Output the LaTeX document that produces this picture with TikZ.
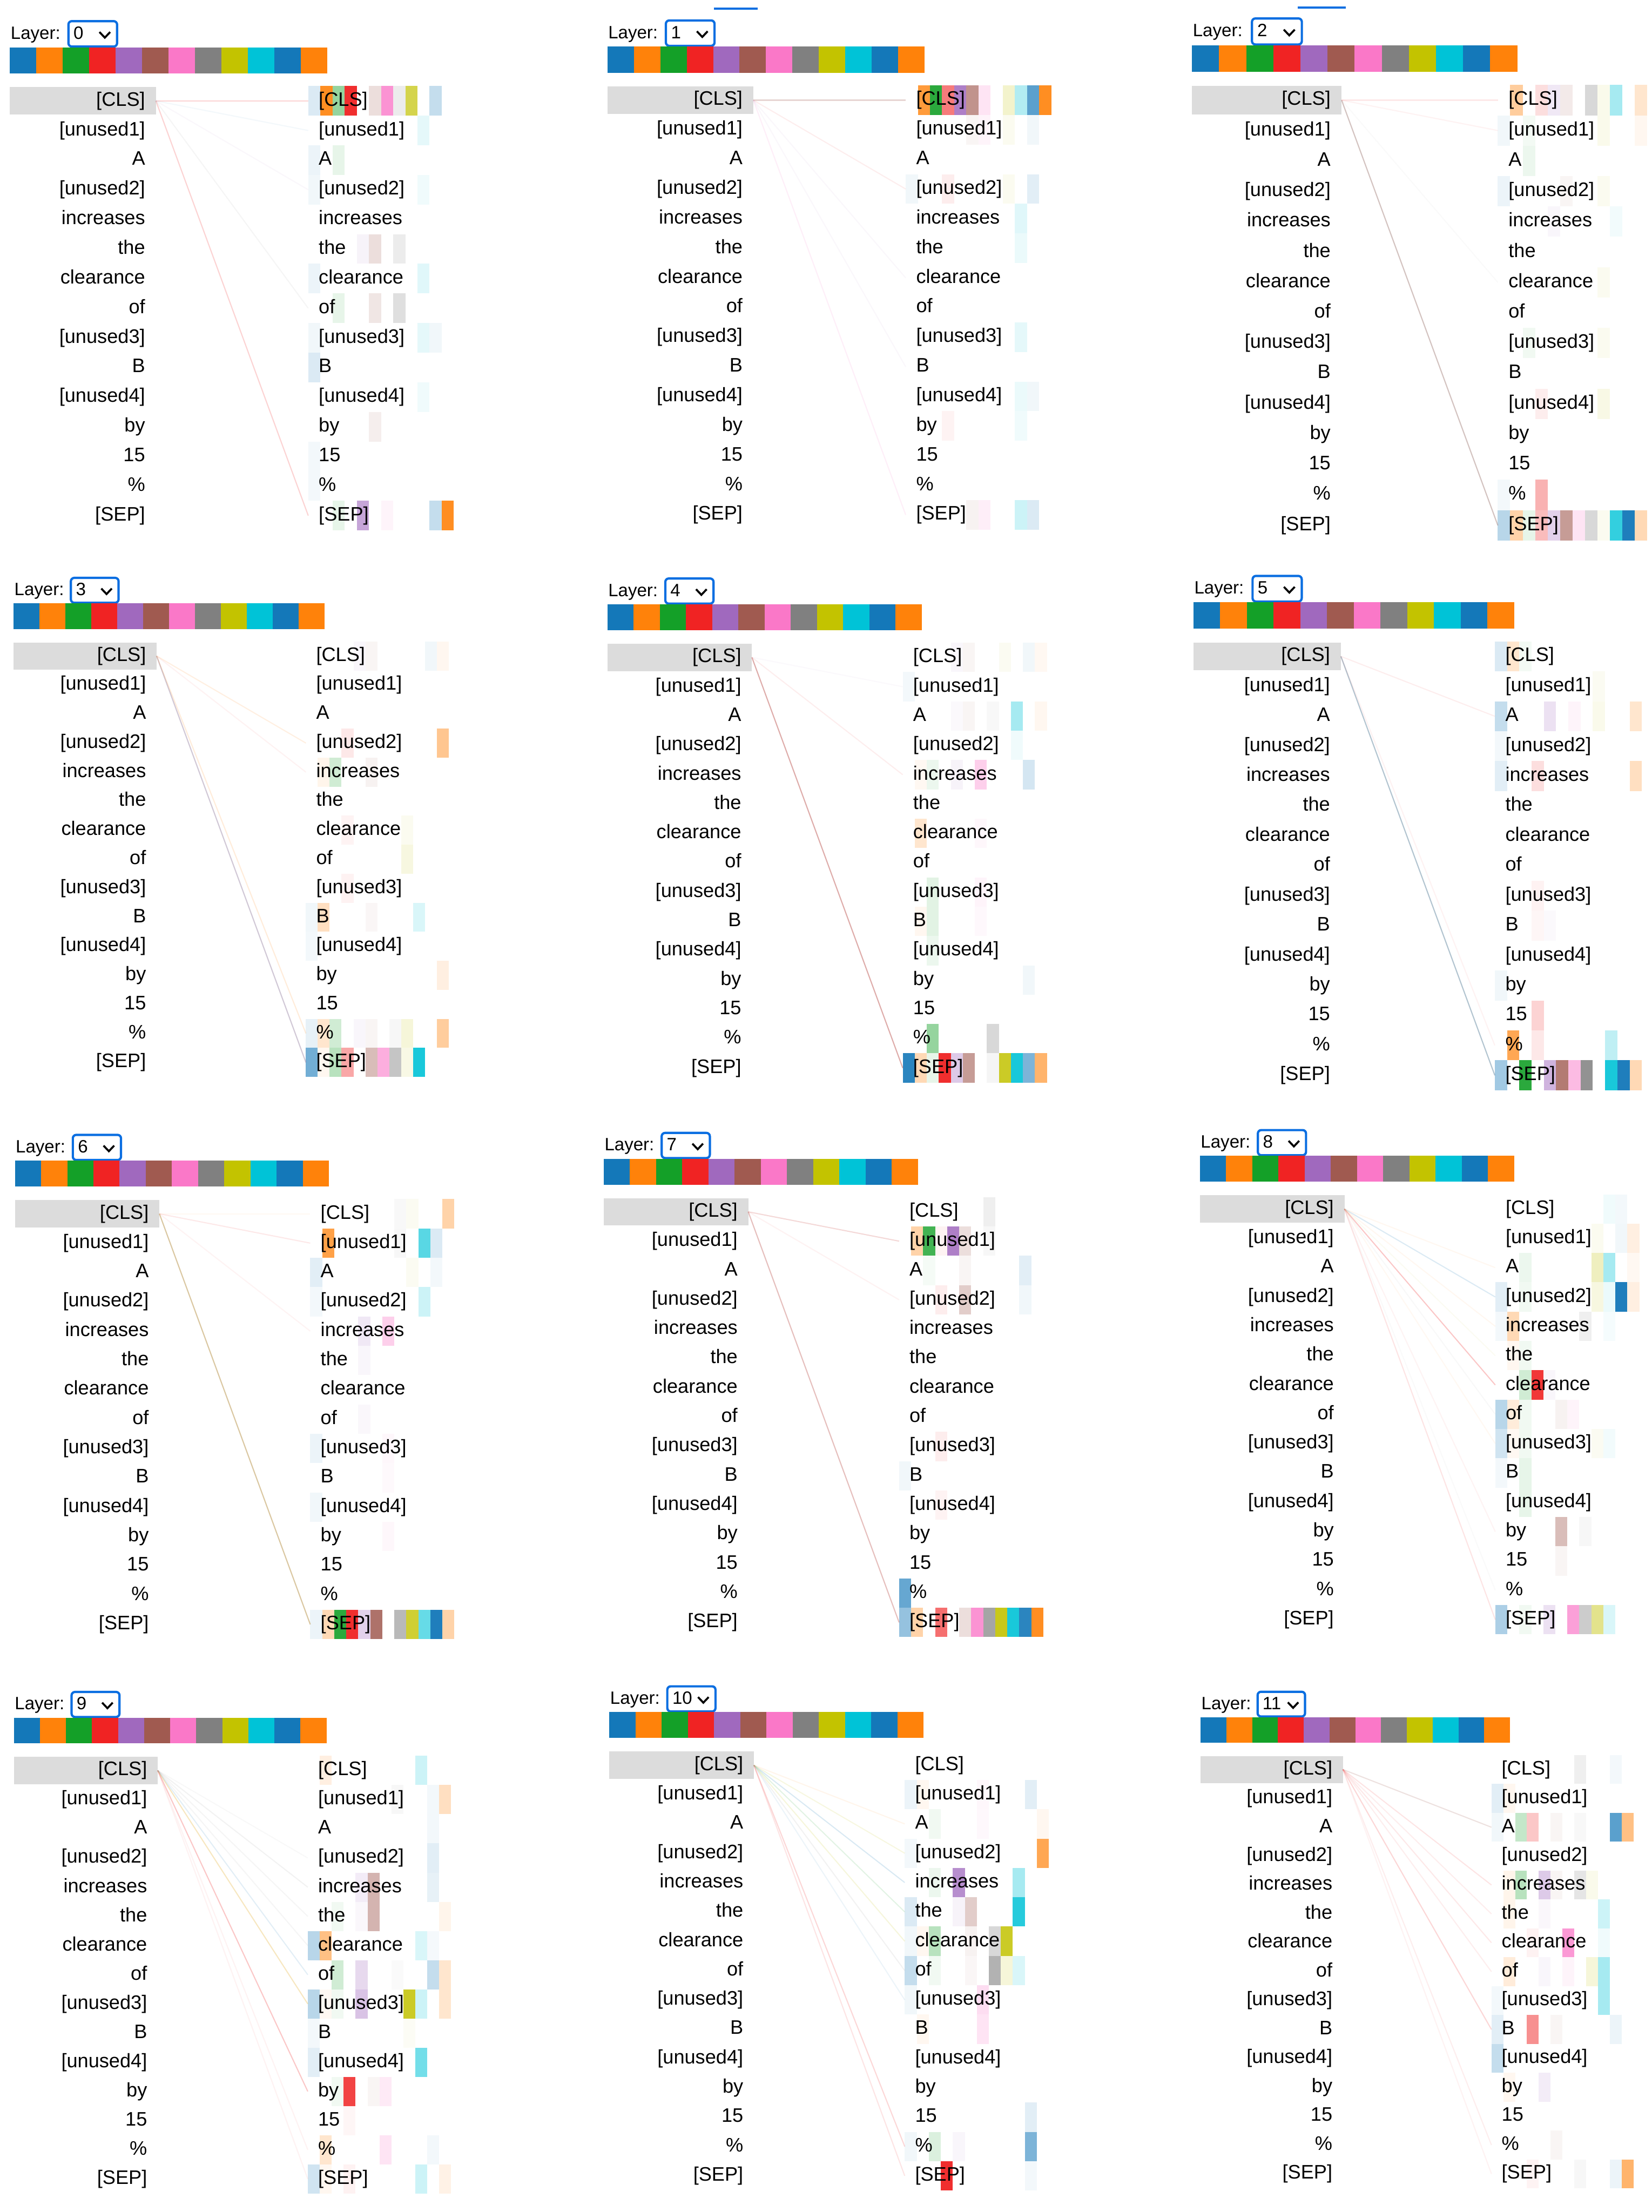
\documentclass[tikz,border=0pt]{standalone}
\usepackage{fontspec}
\setmainfont{Liberation Sans}
\usetikzlibrary{positioning}

\definecolor{headA}{RGB}{20,120,185}
\definecolor{headB}{RGB}{255,130,10}
\definecolor{headC}{RGB}{20,160,40}
\definecolor{headD}{RGB}{240,35,35}
\definecolor{headE}{RGB}{160,105,190}
\definecolor{headF}{RGB}{160,90,80}
\definecolor{headG}{RGB}{250,120,200}
\definecolor{headH}{RGB}{128,128,128}
\definecolor{headI}{RGB}{195,195,0}
\definecolor{headJ}{RGB}{0,195,215}
\definecolor{headK}{RGB}{20,120,185}
\definecolor{headL}{RGB}{255,130,10}
\definecolor{selgray}{RGB}{220,220,220}
\definecolor{dropblue}{RGB}{10,110,225}

% one head-view panel: name, x, y, scale, layer, cells, lines
\newcommand{\attnpanel}[7]{%
	\begin{scope}[shift={(#2,#3)}, scale=#4]
		% attention cells behind the right tokens
		\foreach \r/\c/\h/\o in {#6}
			\fill[\h, fill opacity=\o] (108+8.6*\c,21*\r-10.5) rectangle ++(8.6,21);
		% layer selector
		\node (#1-layer) [layerlab] at (-103,-47) {Layer:};
		\draw[dropbox] (-62,-56.5) rectangle (-27.5,-38.5);
		\node (#1-num) [layerlab] at (-58.5,-47) {#5};
		\draw[chevron] (-40,-48.8) -- (-36.2,-44.8) -- (-32.4,-48.8);
		% head colours
		\foreach \h [count=\k from 0] in {headA,headB,headC,headD,headE,headF,headG,headH,headI,headJ,headK,headL}
			\fill[\h] (-103.5+18.75*\k,-38) rectangle ++(18.75,18.5);
		% selected token
		\fill[selgray] (-103.5,-9.8) rectangle (0,9.8);
		\coordinate (#1-sel) at (0,0);
		% tokens
		\foreach \t [count=\i from 0] in {{[CLS]},{[unused1]},A,{[unused2]},increases,the,clearance,of,{[unused3]},B,{[unused4]},by,15,\%,{[SEP]}} {
			\node (#1-l\i) [lefttok] at (-7.5,21*\i) {\t};
			\node (#1-r\i) [righttok] at (115.3,21*\i) {\t};
			\coordinate (#1-e\i) at (108,21*\i);
		}
		% attention lines
		\foreach \r/\h/\o in {#7}
			\draw[attn, \h, draw opacity=\o] (#1-sel) -- (#1-e\r);
	\end{scope}}

\begin{document}
\begin{tikzpicture}[
	x=0.05cm, y=-0.05cm,
	lefttok/.style={anchor=east, inner sep=0, text height=14.5pt, text depth=4.2pt, font=\fontsize{19.7}{22}\selectfont},
	righttok/.style={anchor=west, inner sep=0, text height=14.5pt, text depth=4.2pt, font=\fontsize{19.7}{22}\selectfont},
	layerlab/.style={anchor=west, inner sep=0, text height=12.9pt, text depth=3.8pt, font=\fontsize{18}{20}\selectfont},
	dropbox/.style={draw=dropblue, line width=0.08cm, rounded corners=0.12cm},
	chevron/.style={draw=black, line width=0.07cm},
	attn/.style={line width=0.04cm}
	]
	
	\fill[white] (0,0) rectangle (1171,1568);
	\useasboundingbox (0,0) rectangle (1171,1568);
	
	%%%%%%%%%%%%%%%%%%%%%%%%%%%%%%%%%%%%%%%%%%%%%%%%%%%%%%%%%%%%
	% Row 1: layers 0, 1, 2
	%%%%%%%%%%%%%%%%%%%%%%%%%%%%%%%%%%%%%%%%%%%%%%%%%%%%%%%%%%%%
	
	\attnpanel{p0}{110.5}{71.5}{1}{0}{
		0/0/headA/0.15, 0/1/headB/0.9, 0/2/headC/0.45, 0/3/headD/0.95, 0/5/headF/0.2, 0/6/headG/0.8, 0/7/headH/0.15, 0/8/headI/0.7, 0/10/headK/0.25,
		1/9/headJ/0.1, 2/0/headA/0.08, 2/2/headC/0.1, 3/0/headA/0.06, 3/9/headJ/0.06,
		5/4/headE/0.08, 5/5/headF/0.2, 5/7/headH/0.15, 6/0/headA/0.08, 6/9/headJ/0.12,
		7/2/headC/0.1, 7/5/headF/0.15, 7/7/headH/0.25, 8/0/headA/0.06, 8/9/headJ/0.1, 8/10/headK/0.06,
		9/0/headA/0.15, 10/9/headJ/0.06, 11/5/headF/0.1, 12/0/headA/0.05, 13/0/headA/0.05,
		14/2/headC/0.1, 14/4/headE/0.6, 14/6/headG/0.08, 14/10/headK/0.25, 14/11/headL/0.9}{
		0/headD/0.2, 14/headD/0.2, 7/headH/0.08, 3/headE/0.05, 1/headA/0.05}
	
	\attnpanel{p1}{534}{71}{1}{1}{
		0/1/headB/0.8, 0/2/headC/0.9, 0/3/headD/0.6, 0/4/headE/0.85, 0/5/headF/0.65, 0/6/headG/0.2, 0/8/headI/0.2, 0/9/headJ/0.3, 0/10/headK/0.7, 0/11/headL/0.9,
		1/5/headF/0.06, 1/6/headG/0.08, 1/8/headI/0.06, 1/10/headK/0.06,
		3/0/headA/0.06, 3/3/headD/0.08, 3/8/headI/0.06, 3/10/headK/0.12,
		4/9/headJ/0.12, 5/9/headJ/0.08, 8/9/headJ/0.1, 10/9/headJ/0.08, 10/10/headK/0.06, 11/3/headD/0.05, 11/9/headJ/0.06,
		14/5/headF/0.08, 14/6/headG/0.12, 14/9/headJ/0.2, 14/10/headK/0.15}{
		0/headF/0.25, 14/headG/0.12, 3/headD/0.08, 6/headE/0.05, 9/headE/0.05}
	
	\attnpanel{p2}{951}{71}{1.025}{2}{
		0/1/headB/0.4, 0/3/headD/0.15, 0/4/headE/0.15, 0/5/headF/0.12, 0/7/headH/0.3, 0/8/headI/0.08, 0/9/headJ/0.35, 0/11/headL/0.2,
		1/0/headA/0.06, 1/2/headC/0.05, 1/8/headI/0.08, 1/11/headL/0.06, 2/2/headC/0.08,
		3/0/headA/0.08, 3/5/headF/0.06, 3/8/headI/0.06, 4/4/headE/0.06, 4/9/headJ/0.05,
		6/8/headI/0.06, 8/2/headC/0.06, 8/8/headI/0.06, 10/3/headD/0.08, 10/8/headI/0.1,
		13/0/headA/0.05, 13/3/headD/0.35,
		14/0/headA/0.3, 14/1/headB/0.35, 14/2/headC/0.1, 14/3/headD/0.3, 14/4/headE/0.3, 14/5/headF/0.6, 14/6/headG/0.2, 14/7/headH/0.3, 14/8/headI/0.06, 14/9/headJ/0.8, 14/10/headK/0.95, 14/11/headL/0.3}{
		14/headF!60!headH/0.4, 0/headD/0.1, 1/headD/0.06, 6/headH/0.04}
	
	% cut-off selector borders at the top
	\draw[dropblue, line width=0.08cm] (506,6) -- (537,6);
	\draw[dropblue, line width=0.08cm] (920,5.5) -- (954,5.5);
	
	%%%%%%%%%%%%%%%%%%%%%%%%%%%%%%%%%%%%%%%%%%%%%%%%%%%%%%%%%%%%
	% Row 2: layers 3, 4, 5
	%%%%%%%%%%%%%%%%%%%%%%%%%%%%%%%%%%%%%%%%%%%%%%%%%%%%%%%%%%%%
	
	\attnpanel{p3}{111}{465}{0.98}{3}{
		0/4/headE/0.06, 0/5/headF/0.06, 0/10/headK/0.06, 0/11/headL/0.06,
		3/3/headD/0.1, 3/11/headL/0.45, 4/1/headB/0.08, 4/2/headC/0.2, 4/5/headF/0.08,
		6/3/headD/0.05, 6/8/headI/0.06, 7/8/headI/0.12, 8/3/headD/0.06,
		9/0/headA/0.06, 9/1/headB/0.25, 9/5/headF/0.05, 9/9/headJ/0.15, 10/0/headA/0.05, 11/11/headL/0.12,
		13/0/headA/0.1, 13/1/headB/0.2, 13/2/headC/0.2, 13/4/headE/0.06, 13/5/headF/0.06, 13/7/headH/0.06, 13/8/headI/0.15, 13/11/headL/0.4,
		14/0/headA/0.6, 14/1/headB/0.06, 14/2/headC/0.3, 14/3/headD/0.4, 14/5/headF/0.4, 14/6/headG/0.6, 14/7/headH/0.45, 14/8/headI/0.1, 14/9/headJ/0.9}{
		14/headE!40!headH/0.4, 13/headB/0.15, 3/headB/0.12, 4/headD/0.06}
	
	\attnpanel{p4}{533}{466}{0.99}{4}{
		0/4/headE/0.06, 0/5/headF/0.06, 0/8/headI/0.05, 0/10/headK/0.06, 0/11/headL/0.05, 1/0/headA/0.05,
		2/4/headE/0.04, 2/5/headF/0.06, 2/7/headH/0.05, 2/9/headJ/0.35, 2/11/headL/0.06, 3/9/headJ/0.06,
		4/1/headB/0.05, 4/2/headC/0.08, 4/4/headE/0.08, 4/6/headG/0.35, 4/10/headK/0.18,
		6/1/headB/0.2, 6/6/headG/0.06, 8/2/headC/0.12, 8/6/headG/0.08,
		9/1/headB/0.06, 9/2/headC/0.12, 9/6/headG/0.05, 10/2/headC/0.08, 11/10/headK/0.06,
		13/2/headC/0.45, 13/7/headH/0.3,
		14/0/headA/0.9, 14/1/headB/0.3, 14/2/headC/0.1, 14/3/headD/0.95, 14/4/headE/0.35, 14/5/headF/0.6, 14/7/headH/0.08, 14/8/headI/0.85, 14/9/headJ/0.9, 14/10/headK/0.55, 14/11/headL/0.6}{
		14/headF!70!headD/0.45, 4/headD/0.08, 1/headE/0.04}
	
	\attnpanel{p5}{950.5}{465.3}{1.01}{5}{
		0/0/headA/0.15, 0/1/headB/0.2, 0/2/headC/0.05, 1/8/headI/0.05,
		2/0/headA/0.25, 2/4/headE/0.2, 2/6/headG/0.08, 2/8/headI/0.08, 2/11/headL/0.2, 3/0/headA/0.05,
		4/0/headA/0.12, 4/3/headD/0.15, 4/11/headL/0.25, 8/3/headD/0.06, 9/3/headD/0.04, 9/4/headE/0.04,
		11/0/headA/0.06, 12/3/headD/0.2, 13/1/headB/0.7, 13/3/headD/0.1, 13/9/headJ/0.25,
		14/0/headA/0.4, 14/2/headC/0.9, 14/4/headE/0.5, 14/5/headF/0.8, 14/6/headG/0.5, 14/7/headH/0.85, 14/9/headJ/0.9, 14/10/headK/0.95, 14/11/headL/0.3}{
		14/headA!40!headH/0.45, 2/headD/0.08, 13/headD/0.06}
	
	%%%%%%%%%%%%%%%%%%%%%%%%%%%%%%%%%%%%%%%%%%%%%%%%%%%%%%%%%%%%
	% Row 3: layers 6, 7, 8
	%%%%%%%%%%%%%%%%%%%%%%%%%%%%%%%%%%%%%%%%%%%%%%%%%%%%%%%%%%%%
	
	\attnpanel{p6}{113}{860.4}{0.99}{6}{
		0/7/headH/0.05, 0/8/headI/0.05, 0/11/headL/0.35,
		1/1/headB/0.75, 1/7/headH/0.06, 1/9/headJ/0.65, 1/10/headK/0.15,
		2/0/headA/0.12, 2/8/headI/0.05, 2/10/headK/0.05, 3/0/headA/0.05, 3/9/headJ/0.2,
		4/4/headE/0.15, 4/6/headG/0.35, 5/4/headE/0.06, 7/4/headE/0.05,
		8/0/headA/0.08, 8/6/headG/0.06, 9/6/headG/0.04, 10/0/headA/0.06, 11/6/headG/0.06,
		14/0/headA/0.08, 14/1/headB/0.3, 14/2/headC/0.9, 14/3/headD/0.95, 14/4/headE/0.3, 14/5/headF/0.85, 14/7/headH/0.55, 14/8/headI/0.8, 14/9/headJ/0.6, 14/10/headK/0.95, 14/11/headL/0.35}{
		14/headF!60!headI/0.45, 1/headD/0.1, 4/headD/0.05, 0/headB/0.05}
	
	\attnpanel{p7}{530.4}{859}{0.99}{7}{
		0/7/headH/0.12,
		1/1/headB/0.35, 1/2/headC/0.8, 1/3/headD/0.05, 1/4/headE/0.85, 1/5/headF/0.2, 1/7/headH/0.06,
		2/2/headC/0.04, 2/5/headF/0.06, 2/10/headK/0.12, 3/3/headD/0.08, 3/5/headF/0.3, 3/10/headK/0.06,
		8/3/headD/0.08, 9/0/headA/0.06, 10/3/headD/0.05, 13/0/headA/0.65,
		14/0/headA/0.45, 14/1/headB/0.35, 14/3/headD/0.65, 14/5/headF/0.2, 14/6/headG/0.8, 14/7/headH/0.7, 14/8/headI/0.9, 14/9/headJ/0.9, 14/10/headK/0.9, 14/11/headL/0.9}{
		14/headF!70!headD/0.35, 1/headF!50!headD/0.2, 3/headD/0.06}
	
	\attnpanel{p8}{953}{857}{0.99}{8}{
		0/9/headJ/0.06, 0/10/headK/0.05, 1/8/headI/0.06, 1/10/headK/0.06, 1/11/headL/0.12,
		2/2/headC/0.08, 2/8/headI/0.25, 2/9/headJ/0.35, 2/11/headL/0.05,
		3/0/headA/0.12, 3/2/headC/0.06, 3/8/headI/0.12, 3/9/headJ/0.08, 3/10/headK/0.95, 3/11/headL/0.12,
		4/0/headA/0.05, 4/1/headB/0.3, 4/7/headH/0.12, 4/9/headJ/0.04, 5/1/headB/0.06, 5/2/headC/0.06,
		6/2/headC/0.2, 6/3/headD/0.9, 6/4/headE/0.06,
		7/0/headA/0.3, 7/1/headB/0.15, 7/2/headC/0.06, 7/5/headF/0.08, 7/6/headG/0.08,
		8/0/headA/0.2, 8/1/headB/0.05, 8/2/headC/0.06, 8/8/headI/0.05, 8/9/headJ/0.05,
		9/0/headA/0.05, 9/2/headC/0.1, 10/2/headC/0.1, 11/5/headF/0.4, 11/7/headH/0.06, 12/5/headF/0.06,
		14/0/headA/0.35, 14/2/headC/0.06, 14/4/headE/0.2, 14/6/headG/0.7, 14/7/headH/0.4, 14/8/headI/0.45, 14/9/headJ/0.15}{
		3/headA/0.15, 6/headD/0.25, 14/headD/0.12, 2/headB/0.06, 4/headB/0.06, 5/headI/0.05, 7/headH/0.05, 8/headB/0.05, 11/headD/0.05, 13/headH/0.04}
	
	%%%%%%%%%%%%%%%%%%%%%%%%%%%%%%%%%%%%%%%%%%%%%%%%%%%%%%%%%%%%
	% Row 4: layers 9, 10, 11
	%%%%%%%%%%%%%%%%%%%%%%%%%%%%%%%%%%%%%%%%%%%%%%%%%%%%%%%%%%%%
	
	\attnpanel{p9}{111.8}{1255}{0.985}{9}{
		0/1/headB/0.12, 0/9/headJ/0.2, 1/7/headH/0.06, 1/10/headK/0.05, 1/11/headL/0.25,
		2/10/headK/0.05, 3/10/headK/0.12, 4/4/headE/0.12, 4/5/headF/0.45, 4/10/headK/0.1,
		5/2/headC/0.06, 5/4/headE/0.05, 5/5/headF/0.45, 5/11/headL/0.08,
		6/0/headA/0.3, 6/1/headB/0.5, 6/9/headJ/0.15, 6/10/headK/0.04,
		7/2/headC/0.2, 7/4/headE/0.25, 7/7/headH/0.04, 7/10/headK/0.25, 7/11/headL/0.2,
		8/0/headA/0.3, 8/1/headB/0.05, 8/2/headC/0.06, 8/4/headE/0.4, 8/8/headI/0.85, 8/9/headJ/0.2, 8/11/headL/0.2,
		9/0/headA/0.05, 9/8/headI/0.04, 10/0/headA/0.12, 10/9/headJ/0.55,
		11/2/headC/0.06, 11/3/headD/0.85, 11/5/headF/0.06, 11/6/headG/0.15, 12/3/headD/0.04,
		13/1/headB/0.2, 13/6/headG/0.2, 13/10/headK/0.05,
		14/0/headA/0.2, 14/1/headB/0.06, 14/3/headD/0.06, 14/9/headJ/0.2, 14/11/headL/0.1}{
		11/headD/0.25, 8/headB!50!headI/0.25, 4/headH/0.1, 5/headH/0.08, 6/headH/0.08, 7/headA/0.12, 13/headD/0.06, 14/headD/0.06, 3/headH/0.05}
	
	\attnpanel{p10}{534.4}{1251.3}{0.99}{10}{
		1/0/headA/0.08, 1/1/headB/0.06, 1/6/headG/0.06, 1/10/headK/0.12,
		2/2/headC/0.06, 2/6/headG/0.05, 2/11/headL/0.06, 3/0/headA/0.05, 3/11/headL/0.7,
		4/2/headC/0.08, 4/4/headE/0.75, 4/9/headJ/0.35,
		5/0/headA/0.15, 5/4/headE/0.08, 5/5/headF/0.3, 5/9/headJ/0.85,
		6/0/headA/0.06, 6/1/headB/0.06, 6/2/headC/0.3, 6/5/headF/0.08, 6/7/headH/0.3, 6/8/headI/0.85,
		7/0/headA/0.25, 7/2/headC/0.06, 7/5/headF/0.05, 7/7/headH/0.6, 7/8/headI/0.15, 7/9/headJ/0.15,
		8/0/headA/0.06, 8/6/headG/0.25, 9/1/headB/0.06, 9/6/headG/0.2, 12/10/headK/0.12,
		13/0/headA/0.06, 13/2/headC/0.15, 13/4/headE/0.06, 13/10/headK/0.55,
		14/3/headD/0.95, 14/10/headK/0.05}{
		3/headI/0.12, 4/headA/0.16, 5/headC/0.12, 6/headI/0.14, 7/headH/0.1, 8/headA/0.08, 13/headD/0.18, 14/headD/0.12, 2/headB/0.08}
	
	\attnpanel{p11}{951.9}{1254.3}{0.975}{11}{
		0/7/headH/0.12, 0/10/headK/0.05, 1/0/headA/0.12, 1/1/headB/0.06,
		2/0/headA/0.06, 2/2/headC/0.25, 2/3/headD/0.25, 2/5/headF/0.06, 2/7/headH/0.05, 2/10/headK/0.7, 2/11/headL/0.5,
		4/1/headB/0.08, 4/2/headC/0.3, 4/4/headE/0.35, 4/5/headF/0.06, 4/7/headH/0.2, 4/8/headI/0.08,
		5/1/headB/0.08, 5/4/headE/0.05, 5/9/headJ/0.2, 6/3/headD/0.06, 6/6/headG/0.75, 6/9/headJ/0.06,
		7/1/headB/0.15, 7/4/headE/0.06, 7/6/headG/0.08, 7/8/headI/0.15, 7/9/headJ/0.35,
		8/0/headA/0.05, 8/9/headJ/0.35, 9/0/headA/0.12, 9/3/headD/0.5, 9/5/headF/0.06, 9/10/headK/0.08,
		10/0/headA/0.25, 11/1/headB/0.06, 11/4/headE/0.12, 13/5/headF/0.06,
		14/3/headD/0.05, 14/7/headH/0.06, 14/10/headK/0.08, 14/11/headL/0.6}{
		2/headF/0.18, 4/headD/0.12, 5/headD/0.08, 6/headD/0.1, 7/headD/0.08, 9/headD/0.18, 13/headD/0.08, 14/headD/0.06}
	
\end{tikzpicture}
\end{document}
